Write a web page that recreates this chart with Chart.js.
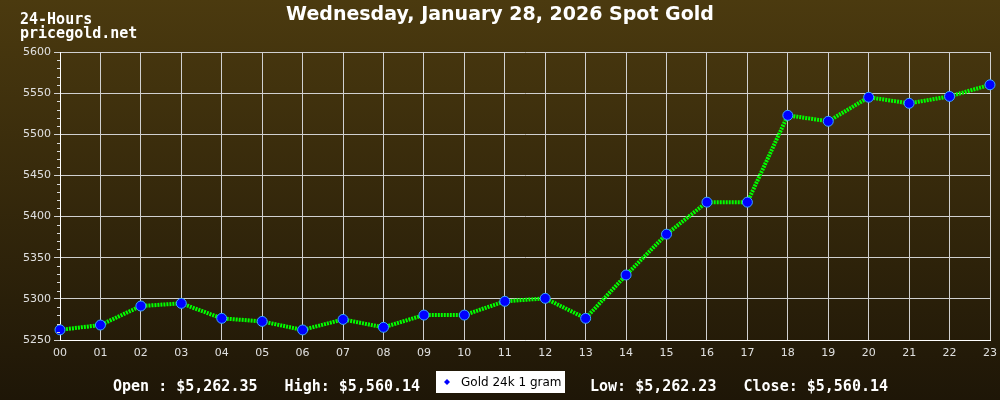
<!DOCTYPE html>
<html>
<head>
<meta charset="utf-8">
<script src="https://cdn.jsdelivr.net/npm/chart.js@4"></script>
<style>
  body { margin: 0; background: #000; }
  #wrap { width: 1000px; height: 400px; }
</style>
</head>
<body>
<div id="wrap"><canvas id="myChart" width="1000" height="400"></canvas></div>
<script>
// 24 hourly spot prices
let hours = ["00","01","02","03","04","05","06","07","08","09","10","11",
             "12","13","14","15","16","17","18","19","20","21","22","23"];
let prices = [5262.35, 5268.2, 5291.3, 5294.5, 5276.3, 5272.6, 5262.23, 5275.0,
              5265.4, 5280.3, 5280.3, 5297.0, 5300.6, 5276.3, 5329.0, 5378.6,
              5417.5, 5417.5, 5523.0, 5515.8, 5545.0, 5537.6, 5546.0, 5560.14];
let yTicks = [5250, 5600, 50];  // min, max, step
let titleText = "Wednesday, January 28, 2026 Spot Gold";
let topLeft = ["24-Hours", "pricegold.net"];
let seriesName = "Gold 24k 1 gram";
let summaryLeft = "Open : $5,262.35   High: $5,560.14";
let summaryRight = "Low: $5,262.23   Close: $5,560.14";

// background, titles, minor ticks, legend box, footer
const decor = {
  id: "decor",
  beforeDraw(chart) {
    const c = chart.ctx;
    const g = c.createLinearGradient(0, 0, 0, 400);
    g.addColorStop(0, "#4b3a0f");
    g.addColorStop(1, "#1e1607");
    c.save();
    c.fillStyle = g;
    c.fillRect(0, 0, chart.width, chart.height);
    c.restore();
  },
  afterDraw(chart) {
    const c = chart.ctx;
    const y = chart.scales.y;
    c.save();
    // minor ticks every 10
    c.strokeStyle = "#d8d8d8";
    c.lineWidth = 1;
    for (let v = yTicks[0]; v <= yTicks[1]; v += 10) {
      if (v % yTicks[2] === 0) continue;
      const py = Math.round(y.getPixelForValue(v)) + 0.5;
      c.beginPath();
      c.moveTo(y.right - 3, py);
      c.lineTo(y.right, py);
      c.stroke();
    }
    c.fillStyle = "#ffffff";
    c.textBaseline = "alphabetic";
    c.font = "bold 19px 'DejaVu Sans'";
    c.textAlign = "center";
    c.fillText(titleText, 500, 20);
    c.textAlign = "left";
    c.font = "bold 15px 'DejaVu Sans Mono'";
    c.fillText(topLeft[0], 20, 24);
    c.fillText(topLeft[1], 20, 38);
    c.fillText(summaryLeft, 113, 391);
    c.fillText(summaryRight, 590, 391);
    // legend box
    const ds = chart.data.datasets[0];
    c.fillStyle = "#ffffff";
    c.fillRect(436, 371, 129, 22);
    c.fillStyle = ds.pointBackgroundColor;
    c.beginPath();
    c.moveTo(447, 379); c.lineTo(450, 382); c.lineTo(447, 385); c.lineTo(444, 382);
    c.closePath(); c.fill();
    c.fillStyle = "#000000";
    c.font = "12px 'DejaVu Sans'";
    c.fillText(ds.label, 461, 386);
    c.restore();
  }
};

const ctx = document.getElementById("myChart").getContext("2d");
const chart = new Chart(ctx, {
  type: "line",
  data: {
    labels: hours,
    datasets: [{
      label: seriesName,
      data: prices,
      borderColor: "#00ff00",
      borderWidth: 4,
      borderDash: [2, 1],
      tension: 0,
      pointRadius: 5,
      pointHoverRadius: 5,
      pointBackgroundColor: "#0000ff",
      pointBorderColor: "#3aa6ff",
      pointBorderWidth: 1,
      clip: false
    }]
  },
  options: {
    responsive: false,
    animation: false,
    events: [],
    layout: { padding: { top: 52, left: 0, right: 10, bottom: 30 } },
    plugins: {
      legend: { display: false },
      title: { display: false },
      tooltip: { enabled: false }
    },
    scales: {
      x: {
        offset: false,
        afterFit(s) { s.height = 30; s.paddingLeft = 0; s.paddingRight = 0; },
        grid: { color: "#d0d0d0", lineWidth: 1, tickLength: 0 },
        border: { color: "#ffffff", width: 1 },
        ticks: {
          color: "#e0e0e0",
          font: { family: "DejaVu Sans", size: 11 },
          padding: 7,
          maxRotation: 0,
          autoSkip: false
        }
      },
      y: {
        min: yTicks[0],
        max: yTicks[1],
        afterFit(s) { s.width = 60; s.paddingTop = 0; s.paddingBottom = 0; },
        grid: { color: "#d0d0d0", lineWidth: 1, tickLength: 6 },
        border: { color: "#ffffff", width: 1 },
        ticks: {
          stepSize: yTicks[2],
          color: "#e0e0e0",
          font: { family: "DejaVu Sans", size: 11 },
          padding: 3,
          callback: v => String(v)
        }
      }
    }
  },
  plugins: [decor]
});
</script>
</body>
</html>
